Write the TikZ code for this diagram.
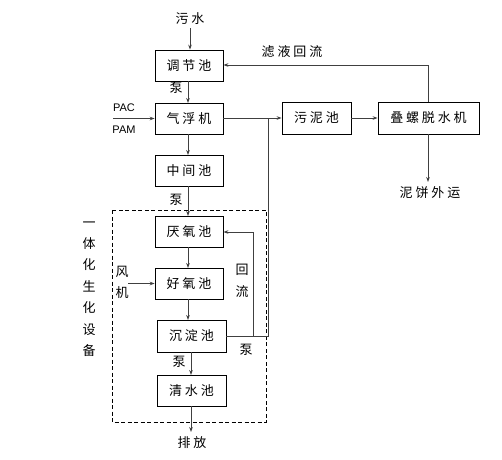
\documentclass[tikz,border=0pt]{standalone}
\usepackage{fontspec}
\newfontfamily\cjk[LetterSpace=22]{Noto Sans CJK SC}
\newfontfamily\lat{Liberation Sans}
\usetikzlibrary{arrows.meta}
\begin{document}
\begin{tikzpicture}[x=1pt,y=-1pt,
  box/.style={draw=black,line width=0.8pt,minimum height=31pt,minimum width=68pt,inner sep=0pt,font=\cjk\fontsize{13}{14}\selectfont},
  lbl/.style={inner sep=0pt,font=\cjk\fontsize{13}{14}\selectfont},
  arr/.style={draw=black!75,line width=0.8pt,-{Stealth[length=5pt,width=3.6pt]}},
  ln/.style={draw=black!75,line width=0.8pt}]
\useasboundingbox (0,0) rectangle (502,459);
\node[box] (tiaojie) at (189,65.5) {调节池};
\node[box] (qifu) at (189,118.5) {气浮机};
\node[box] (zhongjian) at (189,170.5) {中间池};
\node[box] (yanyang) at (189,231.5) {厌氧池};
\node[box] (haoyang) at (189,283.5) {好氧池};
\node[box,minimum width=69pt,minimum height=32pt] (chendian) at (191.5,336) {沉淀池};
\node[box,minimum width=69pt] (qingshui) at (191.5,390.5) {清水池};
\node[box,minimum width=69pt,minimum height=32pt] (wuni) at (316.5,118) {污泥池};
\node[box,minimum width=101pt,minimum height=32pt] (dieluo) at (428.5,118) {叠螺脱水机};
\draw[dash pattern=on 4pt off 2.5pt,line width=0.8pt] (112,210) rectangle (266,422);
\node[lbl] (wushui) at (190,19) {污水};
\node[lbl] (paifang) at (192,443) {排放};
\node[lbl] (luye) at (292,52) {滤液回流};
\node[lbl] (nibing) at (430,193) {泥饼外运};
\node[lbl] (beng1) at (176,88) {泵};
\node[lbl] (beng2) at (176,200) {泵};
\node[lbl] (beng3) at (179,362) {泵};
\node[lbl] (beng4) at (246,350) {泵};
\node[lbl,align=center,font=\cjk\fontsize{13}{21}\selectfont] (fengji) at (122,282) {风\\机};
\node[lbl,align=center,font=\cjk\fontsize{13}{22}\selectfont] (huiliu) at (242,281) {回\\流};
\node[lbl,align=center,font=\cjk\fontsize{13}{21.4}\selectfont] (yiti) at (89,289) {一\\体\\化\\生\\化\\设\\备};
\node[inner sep=0pt,font=\lat\fontsize{11}{12}\selectfont] (pac) at (124,108) {PAC};
\node[inner sep=0pt,font=\lat\fontsize{11}{12}\selectfont] (pam) at (124,130) {PAM};
\coordinate (pacs) at (113,118.5);
\coordinate (fjs) at (128,283.5);
\coordinate (j) at (268,118);
\coordinate (r) at (253,232);
\coordinate (f) at (428,65);
\draw[arr] (wushui.south |- 0,28) -- (tiaojie.north -| wushui.south);
\draw[arr] (188,81) -- (188,103);
\draw[arr] (188,134) -- (188,155);
\draw[arr] (188,186) -- (188,216);
\draw[arr] (188,247) -- (188,268);
\draw[arr] (188,299) -- (188,320);
\draw[arr] (191,352) -- (191,375);
\draw[arr] (191,406) -- (191,432);
\draw[arr] (pacs) -- (qifu.west |- pacs);
\draw[arr] (fjs) -- (haoyang.west |- fjs);
\draw[arr] (qifu.east |- j) -- (wuni.west |- j);
\draw[ln] (chendian.east) -| (j);
\draw[arr] (r |- chendian.east) -- (r) -- (yanyang.east |- r);
\draw[arr] (wuni.east) -- (dieluo.west);
\draw[arr] (dieluo.north -| f) -- (f) -- (tiaojie.east |- f);
\draw[arr] (dieluo.south -| f) -- (f |- 0,182);
\end{tikzpicture}
\end{document}
